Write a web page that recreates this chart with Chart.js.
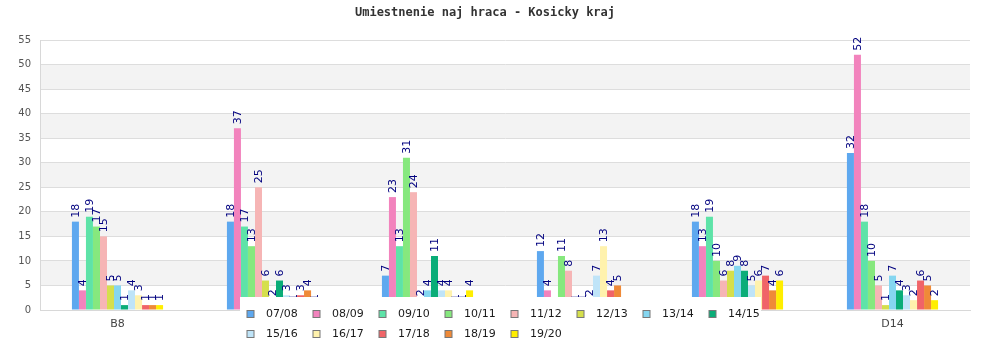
<!DOCTYPE html>
<html>
<head>
<meta charset="utf-8">
<script src="https://cdn.jsdelivr.net/npm/chart.js@4/dist/chart.umd.min.js"></script>
<style>
  html, body { margin: 0; padding: 0; background: #fff; }
  #wrap { width: 1000px; height: 350px; position: relative; }
</style>
</head>
<body>
<div id="wrap"><canvas id="c"></canvas></div>
<script>
// Age categories on the x axis
const categories = ['B8', 'B10', 'B12', 'B14', 'D10', 'D14'];

// Seasons (one bar series per season)
const seasons = ['07/08', '08/09', '09/10', '10/11', '11/12', '12/13', '13/14',
                 '14/15', '15/16', '16/17', '17/18', '18/19', '19/20'];

// Counts per category for each season
const s0708 = [18, 18, 7, 12, 18, 32];
const s0809 = [4, 37, 23, 4, 13, 52];
const s0910 = [19, 17, 13, 0, 19, 18];
const s1011 = [17, 13, 31, 11, 10, 10];
const s1112 = [15, 25, 24, 8, 6, 5];
const s1213 = [5, 6, 2, 1, 8, 1];
const s1314 = [5, 2, 4, 1, 9, 7];
const s1415 = [1, 6, 11, 2, 8, 4];
const s1516 = [4, 3, 4, 7, 5, 3];
const s1617 = [3, 1, 4, 13, 6, 2];
const s1718 = [1, 3, 1, 4, 7, 6];
const s1819 = [1, 4, 1, 5, 4, 5];
const s1920 = [1, 1, 4, 0, 6, 2];

// Y axis ticks
const yTicks = [0, 5, 10, 15, 20, 25, 30, 35, 40, 45, 50, 55];

const seriesValues = [s0708, s0809, s0910, s1011, s1112, s1213, s1314,
                      s1415, s1516, s1617, s1718, s1819, s1920];

const palette = ['#5ea8ef', '#f283bd', '#5ee3a8', '#86e87e', '#f6b5b5', '#d5df4c',
                 '#85d6f0', '#0aad78', '#bfe4f8', '#fff2ad', '#f06468', '#ef8a38', '#ffee00'];

const datasets = seasons.map((name, i) => ({
  label: name,
  data: seriesValues[i],
  backgroundColor: palette[i],
  borderWidth: 0,
  barPercentage: 1.0,
  categoryPercentage: 0.588
}));

// Alternating horizontal bands behind the grid
const bandPlugin = {
  id: 'bands',
  beforeDraw(chart) {
    const { ctx, chartArea, scales } = chart;
    const y = scales.y;
    ctx.save();
    ctx.fillStyle = '#f3f3f3';
    for (let i = 0; i < yTicks.length - 1; i++) {
      if (i % 2 === 1) {
        const top = y.getPixelForValue(yTicks[i + 1]);
        const bot = y.getPixelForValue(yTicks[i]);
        ctx.fillRect(chartArea.left, top, chartArea.right - chartArea.left, bot - top);
      }
    }
    ctx.restore();
  }
};

// Rotated value labels above every non-zero bar
const valueLabelPlugin = {
  id: 'valueLabels',
  afterDatasetsDraw(chart) {
    const { ctx } = chart;
    ctx.save();
    ctx.font = '11px "DejaVu Sans"';
    ctx.fillStyle = '#00007f';
    ctx.textAlign = 'left';
    ctx.textBaseline = 'middle';
    chart.data.datasets.forEach((ds, di) => {
      const meta = chart.getDatasetMeta(di);
      meta.data.forEach((bar, idx) => {
        const v = ds.data[idx];
        if (!v) return;
        ctx.save();
        ctx.translate(bar.x, bar.y - 4);
        ctx.rotate(-Math.PI / 2);
        ctx.fillText(String(v), 0, 0.5);
        ctx.restore();
      });
    });
    ctx.restore();
  }
};

// Legend box laid over the lower part of the plot
const legendPlugin = {
  id: 'overlayLegend',
  afterDraw(chart) {
    const { ctx } = chart;
    const perRow = 8, startX = 247, stepX = 66, rowY = [314, 334];
    ctx.save();
    ctx.fillStyle = '#ffffff';
    ctx.fillRect(240, 297, 521, 53);
    ctx.font = '11px "DejaVu Sans"';
    ctx.textAlign = 'left';
    ctx.textBaseline = 'middle';
    chart.data.datasets.forEach((ds, i) => {
      const row = Math.floor(i / perRow), col = i % perRow;
      const x = startX + col * stepX, y = rowY[row];
      ctx.fillStyle = ds.backgroundColor;
      ctx.fillRect(x, y - 3.5, 7, 7);
      ctx.strokeStyle = '#777';
      ctx.lineWidth = 1;
      ctx.strokeRect(x + 0.5 - 0.5, y - 3.5, 7, 7);
      ctx.fillStyle = '#1a1a1a';
      ctx.fillText(ds.label, x + 19, y + 0.5);
    });
    ctx.restore();
  }
};

new Chart(document.getElementById('c'), {
  type: 'bar',
  data: { labels: categories, datasets },
  plugins: [bandPlugin, valueLabelPlugin, legendPlugin],
  options: {
    responsive: true,
    maintainAspectRatio: false,
    animation: false,
    layout: { padding: { left: 0, right: 30, top: 0, bottom: 0 } },
    plugins: {
      legend: { display: false },
      tooltip: { enabled: false },
      title: {
        display: true,
        text: 'Umiestnenie naj hraca - Kosicky kraj',
        color: '#333',
        font: { family: '"DejaVu Sans Mono"', size: 12, weight: 'bold', lineHeight: 1.2 },
        padding: { top: 6, bottom: 19.6 }
      }
    },
    scales: {
      x: {
        grid: { display: false, drawTicks: false },
        border: { display: true, color: '#d8d8d8' },
        ticks: { color: '#444', font: { family: '"DejaVu Sans"', size: 11 }, padding: 8, maxRotation: 0, autoSkip: false },
        afterFit(scale) { scale.height = 40; }
      },
      y: {
        min: 0, max: 55,
        afterBuildTicks(scale) { scale.ticks = yTicks.map(v => ({ value: v })); },
        grid: { color: '#dddddd', drawTicks: false },
        border: { display: true, color: '#d8d8d8' },
        ticks: { color: '#555', font: { family: '"DejaVu Sans"', size: 10 }, padding: 9 },
        afterFit(scale) { scale.width = 40; }
      }
    }
  },
});

// Right edge of the plot frame
Chart.register({
  id: 'frameRight',
  afterDraw(chart) {
    const { ctx, chartArea } = chart;
    ctx.save();
    ctx.strokeStyle = '#d8d8d8';
    ctx.lineWidth = 1;
    ctx.beginPath();
    ctx.moveTo(Math.round(chartArea.right) + 0.5, chartArea.top);
    ctx.lineTo(Math.round(chartArea.right) + 0.5, chartArea.bottom);
    ctx.stroke();
    ctx.restore();
  }
});
</script>
</body>
</html>
